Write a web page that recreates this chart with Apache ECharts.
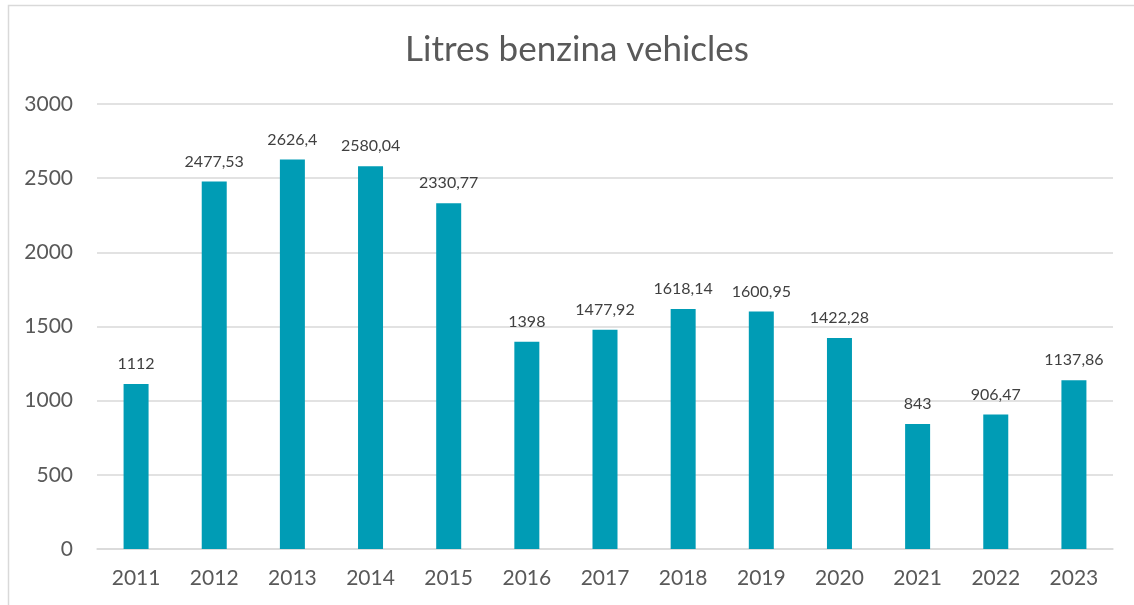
<!DOCTYPE html>
<html>
<head>
<meta charset="utf-8">
<script src="https://cdn.jsdelivr.net/npm/echarts@6/dist/echarts.min.js"></script>
<style>
  html, body { margin: 0; padding: 0; background: #fff; }
  #main { width: 1134px; height: 605px; }
</style>
</head>
<body>
<div id="main"></div>
<script>
// data
var years = ['2011', '2012', '2013', '2014', '2015', '2016', '2017', '2018', '2019', '2020', '2021', '2022', '2023'];
var litres = [1112, 2477.53, 2626.4, 2580.04, 2330.77, 1398, 1477.92, 1618.14, 1600.95, 1422.28, 843, 906.47, 1137.86];
var yTicks = [0, 500, 1000, 1500, 2000, 2500, 3000];

var chart = echarts.init(document.getElementById('main'));
var font = 'Lato, "Open Sans", sans-serif';

var option = {
  animation: false,
  backgroundColor: '#fff',
  title: {
    text: 'Litres benzina vehicles',
    left: 572,
    top: 27,
    textAlign: 'center',
    textStyle: { fontFamily: font, fontSize: 35, fontWeight: 'normal', color: '#595959' }
  },
  graphic: [{
    type: 'rect',
    shape: { x: 8.5, y: 5.5, width: 1200, height: 700 },
    style: { fill: 'none', stroke: '#d9d9d9', lineWidth: 1.5 },
    silent: true
  }],
  grid: { left: 97, right: 21, top: 104, bottom: 56 },
  xAxis: {
    type: 'category',
    data: years,
    axisLine: { lineStyle: { color: '#d9d9d9', width: 1.5 } },
    axisTick: { show: false },
    axisLabel: { fontFamily: font, fontSize: 21, color: '#595959', margin: 19 }
  },
  yAxis: {
    type: 'value',
    min: yTicks[0],
    max: yTicks[yTicks.length - 1],
    interval: 500,
    axisLine: { show: false },
    axisTick: { show: false },
    splitLine: { lineStyle: { color: '#d9d9d9', width: 1.5 } },
    axisLabel: {
      fontFamily: font, fontSize: 21, color: '#595959', margin: 24,
      formatter: function (v) { return String(v); }
    }
  },
  series: [{
    name: 'Litres',
    type: 'bar',
    data: litres,
    barWidth: 25,
    itemStyle: { color: '#009cb5' },
    label: {
      show: true,
      position: 'top',
      distance: 12,
      fontFamily: font,
      fontSize: 16,
      color: '#404040',
      formatter: function (p) {
        return String(p.value).replace('.', ',');
      }
    }
  }]
};
chart.setOption(option);
</script>
</body>
</html>
